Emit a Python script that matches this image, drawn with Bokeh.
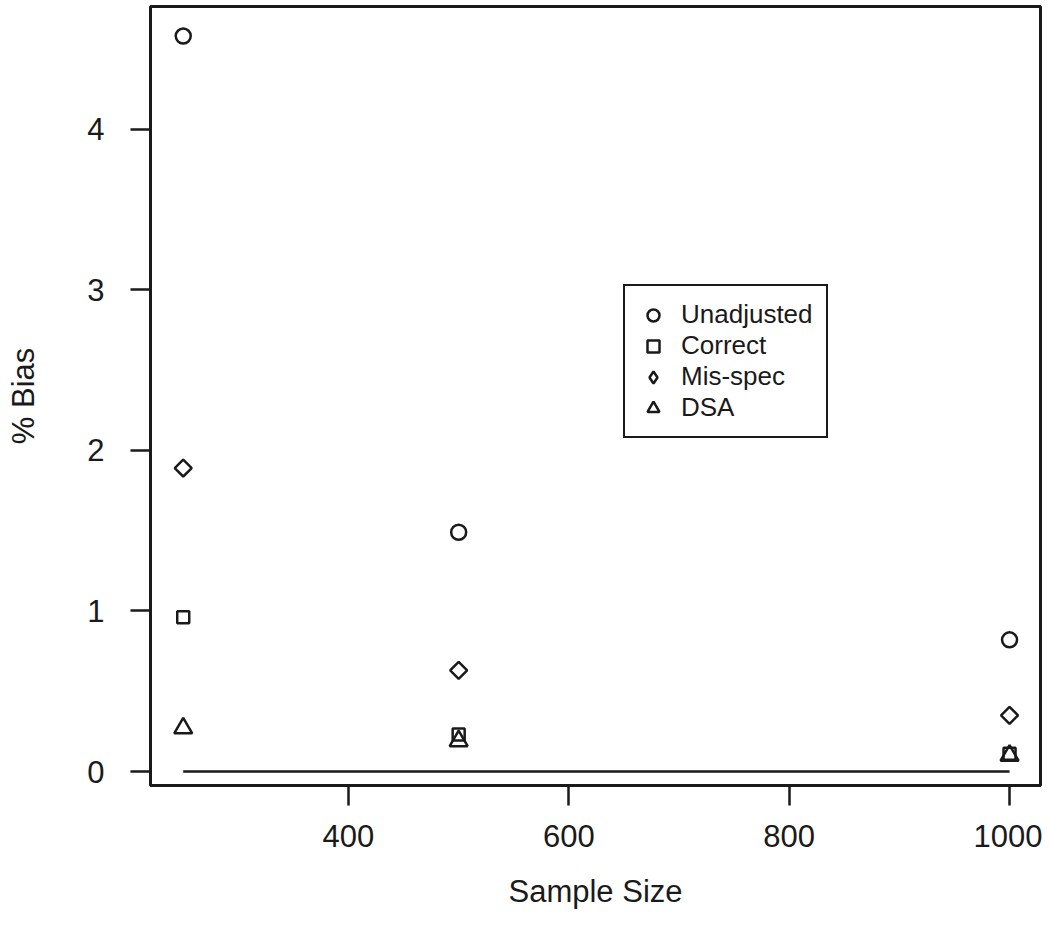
from bokeh.plotting import figure
from bokeh.models import Range1d, FixedTicker, Legend, LegendItem
from bokeh.embed import file_html
from bokeh.resources import INLINE

sample_sizes = [250, 500, 1000]
unadjusted = [4.58, 1.49, 0.82]
correct = [0.96, 0.23, 0.11]
misspec = [1.89, 0.63, 0.35]
dsa = [0.27, 0.19, 0.10]
x_ticks = [400, 600, 800, 1000]
y_ticks = [0, 1, 2, 3, 4]

FONT = "Liberation Sans"
INK = "#1a1a1a"

p = figure(width=1042, height=911, output_backend="svg", toolbar_location=None,
           x_range=Range1d(220.3, 1028.1), y_range=Range1d(-0.087, 4.764),
           min_border_left=150, min_border_right=2, min_border_top=6, min_border_bottom=124)
p.grid.visible = False
p.outline_line_color = INK
p.outline_line_width = 3
p.background_fill_color = "white"
p.border_fill_color = "white"

for ax in (p.xaxis, p.yaxis):
    ax.axis_line_color = None
    ax.major_tick_out = 20
    ax.major_tick_in = 0
    ax.minor_tick_line_color = None
    ax.major_tick_line_width = 2.5
    ax.major_tick_line_color = INK
    ax.major_label_text_font = FONT
    ax.major_label_text_font_size = "31px"
    ax.major_label_text_color = INK
    ax.axis_label_text_font = FONT
    ax.axis_label_text_font_size = "31px"
    ax.axis_label_text_font_style = "normal"
    ax.axis_label_text_color = INK

p.xaxis.ticker = FixedTicker(ticks=x_ticks)
p.yaxis.ticker = FixedTicker(ticks=y_ticks)
p.xaxis.major_label_standoff = 19
p.yaxis.major_label_standoff = 26
p.xaxis.axis_label = "Sample Size"
p.yaxis.axis_label = "% Bias"
p.xaxis.axis_label_standoff = 24
p.yaxis.axis_label_standoff = 43

p.line(x=[sample_sizes[0], sample_sizes[-1]], y=[0, 0], line_color=INK, line_width=2.5)

lw = 2.5
r1 = p.scatter(sample_sizes, unadjusted, marker="circle", size=15, fill_color=None,
               line_color=INK, line_width=lw)
r2 = p.scatter(sample_sizes, correct, marker="square", size=12, fill_color=None,
               line_color=INK, line_width=lw)
r3 = p.scatter(sample_sizes, misspec, marker="square", size=12, angle=0.785398,
               fill_color=None, line_color=INK, line_width=lw)
r4 = p.scatter(sample_sizes, dsa, marker="triangle", size=18, fill_color=None,
               line_color=INK, line_width=lw)
# hidden twin used only for the legend key (legend keys ignore marker angles)
r3_key = p.scatter(sample_sizes, misspec, marker="diamond", size=12, fill_color=None,
                   line_color=INK, line_width=lw, visible=False)

legend = Legend(items=[LegendItem(label="Unadjusted", renderers=[r1]),
                       LegendItem(label="Correct", renderers=[r2]),
                       LegendItem(label="Mis-spec", renderers=[r3_key]),
                       LegendItem(label="DSA", renderers=[r4])],
                location=(473, 347), glyph_width=30, glyph_height=30, spacing=0,
                padding=13, margin=0, label_standoff=13,
                label_text_font=FONT, label_text_font_size="26px", label_text_color=INK,
                border_line_color=INK, border_line_width=2.5, border_line_alpha=1.0,
                background_fill_alpha=1.0, inactive_fill_alpha=0.0)
p.add_layout(legend, "center")

open("out.html", "w").write(file_html(p, INLINE))
